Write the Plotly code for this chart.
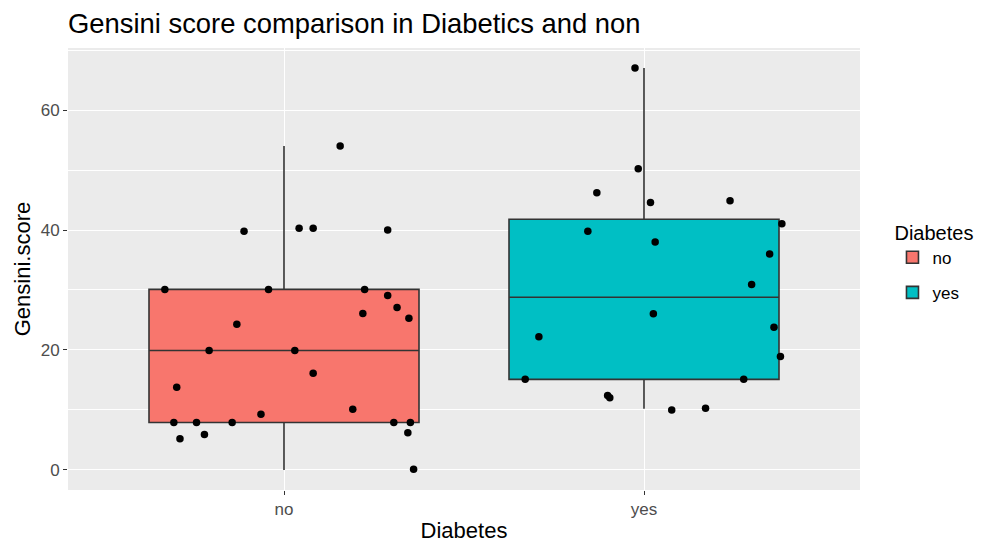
import plotly.graph_objects as go

# ---- data ----
categories = ["no", "yes"]
box_colors = ["#F8766D", "#00BFC4"]

# box statistics
q1_vals = [7.9, 15.1]
median_vals = [19.9, 28.8]
q3_vals = [30.1, 41.8]
lower_whisker = [0.0, 10.2]
upper_whisker = [54.0, 67.0]

# jittered points: horizontal jitter offset (category units) and score
no_jitter = [0.156, -0.111, 0.042, 0.081, 0.288, -0.331, -0.043, 0.224, 0.288, 0.314,
             0.219, 0.347, -0.131, -0.208, 0.030, 0.081, -0.298, 0.191, -0.064, -0.306,
             -0.243, -0.144, 0.305, 0.351, 0.344, -0.221, -0.289, 0.360]
no_score = [54.0, 39.8, 40.3, 40.3, 40.0, 30.1, 30.1, 30.1, 29.1, 27.1,
            26.1, 25.3, 24.3, 19.9, 19.9, 16.1, 13.8, 10.1, 9.3, 7.9,
            7.9, 7.9, 7.9, 7.9, 6.2, 5.9, 5.2, 0.1]
yes_jitter = [-0.025, -0.016, -0.131, 0.018, 0.239, 0.383, -0.156, 0.031, 0.349, 0.299,
              0.026, -0.292, 0.361, 0.379, -0.330, 0.277, -0.101, -0.095, 0.077, 0.171]
yes_score = [67.0, 50.2, 46.2, 44.6, 44.9, 41.05, 39.8, 38.0, 36.0, 30.9,
             26.05, 22.2, 23.8, 18.9, 15.1, 15.1, 12.4, 12.05, 10.0, 10.3]

jitters = [no_jitter, yes_jitter]
scores = [no_score, yes_score]

fig = go.Figure()

for i, cat in enumerate(categories):
    pos = i + 1
    fig.add_trace(go.Box(
        x=[pos], q1=[q1_vals[i]], median=[median_vals[i]], q3=[q3_vals[i]],
        lowerfence=[lower_whisker[i]], upperfence=[upper_whisker[i]],
        width=0.75, whiskerwidth=0, name=cat, fillcolor=box_colors[i],
        line=dict(color="#333333", width=1.6), boxpoints=False,
        legendgroup=cat, showlegend=True, hoverinfo="skip",
    ))

for i, cat in enumerate(categories):
    pos = i + 1
    fig.add_trace(go.Scatter(
        x=[pos + j for j in jitters[i]], y=scores[i], mode="markers",
        marker=dict(color="black", size=7.5), showlegend=False,
        legendgroup=cat, hoverinfo="skip",
    ))

font_family = "Liberation Sans, Arial, sans-serif"
W, H = 979, 543  # page body adds an 8px offset
fig.update_layout(
    width=W, height=H,
    margin=dict(l=60, r=127, t=40, b=61, autoexpand=False),
    paper_bgcolor="white", plot_bgcolor="#EBEBEB",
    font=dict(family=font_family, color="black"),
    title=dict(text="Gensini score comparison in Diabetics and non",
               x=60 / W, xref="container", xanchor="left",
               y=1 - 15 / H, yref="container", yanchor="middle",
               font=dict(size=27.4, color="black")),
    showlegend=True,
    legend=dict(title=dict(text="Diabetes", font=dict(size=20)),
                font=dict(size=17), x=1.041, xanchor="left",
                y=0.625, yanchor="top", traceorder="grouped",
                tracegroupgap=10, bgcolor="rgba(255,255,255,0)"),
    xaxis=dict(range=[0.4, 2.6], tickmode="array", tickvals=[1, 2], ticktext=categories,
               showgrid=True, gridcolor="white", gridwidth=1.3, zeroline=False,
               ticks="outside", ticklen=4, tickcolor="#333333",
               tickfont=dict(size=17, color="#4D4D4D"),
               title=dict(text="Diabetes", font=dict(size=22), standoff=4),
               showline=False),
    yaxis=dict(range=[-3.35, 70.35], tickmode="array", tickvals=[0, 20, 40, 60],
               showgrid=True, gridcolor="white", gridwidth=1.3, zeroline=False,
               minor=dict(tickmode="array", tickvals=[10, 30, 50, 70], showgrid=True,
                          gridcolor="white", gridwidth=0.7),
               ticks="outside", ticklen=4, tickcolor="#333333",
               tickfont=dict(size=17, color="#4D4D4D"),
               title=dict(text="Gensini.score", font=dict(size=22), standoff=3),
               showline=False),
)

fig.write_html("out.html")
